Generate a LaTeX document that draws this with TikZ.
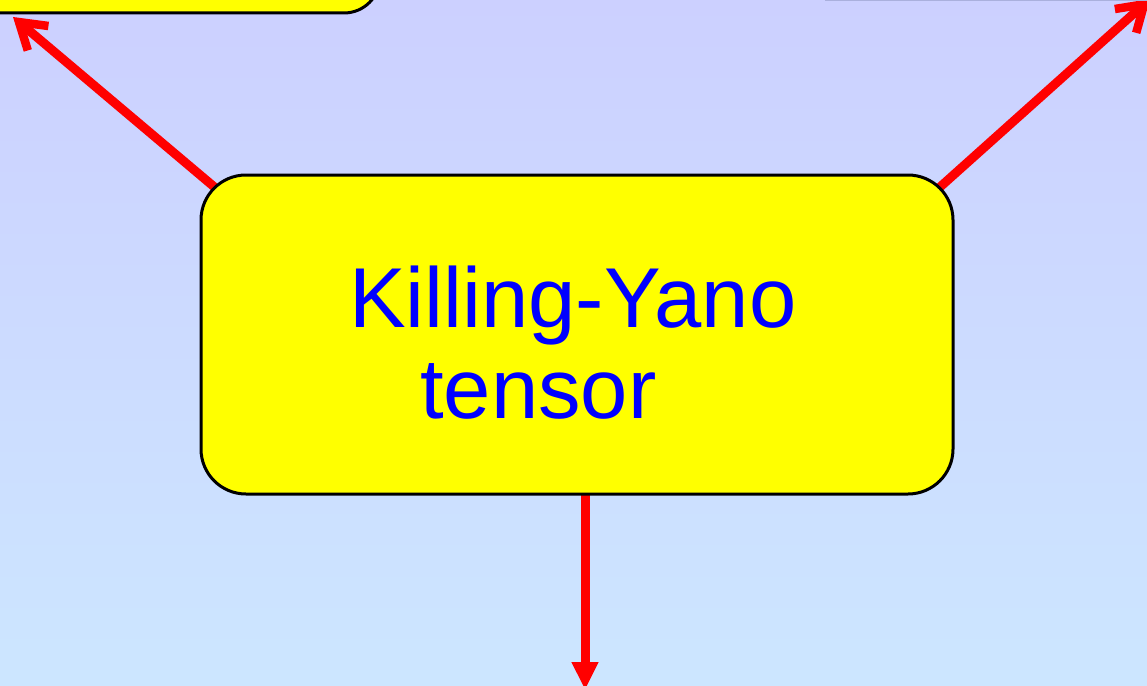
\documentclass[tikz,border=0pt]{standalone}
\usepackage{fontspec}
\setmainfont{Liberation Sans}
\usetikzlibrary{arrows.meta}
\definecolor{bgtop}{HTML}{CCD0FF}
\definecolor{bgbot}{HTML}{CCE6FF}
\definecolor{boxyellow}{HTML}{FFFF00}
\definecolor{txtblue}{HTML}{0000FF}
\definecolor{edgegray}{HTML}{AAB0DD}
\tikzset{
  ybox/.style={fill=boxyellow, draw=black, line width=3pt},
  redarrow/.style={draw=red, line width=9pt},
  openhead/.style={-{Straight Barb[length=25pt,width=32pt,line width=8.5pt]}, line cap=round},
}
\begin{document}
\begin{tikzpicture}[x=1pt,y=-1pt]
\useasboundingbox (0,0) rectangle (1147,685);
\shade[top color=bgtop, bottom color=bgbot] (0,0) rectangle (1147,685);
% points
\coordinate (tl) at (13,17);
\coordinate (tr) at (1150,-1);
\coordinate (s1) at (225,196);
\coordinate (s2) at (930,196);
\coordinate (s3) at (585,490);
\coordinate (e3) at (585,690);
% arrows (under the boxes)
\draw[redarrow, openhead] (s1) -- (tl);
\draw[redarrow, openhead] (s2) -- (tr);
\draw[redarrow, -{Triangle[length=28pt,width=25pt]}] (s3) -- (e3);
% partial boxes at the top
\draw[ybox, rounded corners=36pt] (-60,-120) rectangle (380,13);
\draw[edgegray, line width=1.2pt] (825,0.6) -- (1160,0.6);
% main box
\draw[ybox, rounded corners=45pt] (201,175) rectangle (953,494);
\node[inner sep=0pt, anchor=base west, font=\fontsize{85}{85}\selectfont, text=txtblue] (t1) at (349,327) {Killing-Yano};
\node[inner sep=0pt, anchor=base west, font=\fontsize{85}{85}\selectfont, text=txtblue] (t2) at (420,418) {tensor};
\end{tikzpicture}
\end{document}
